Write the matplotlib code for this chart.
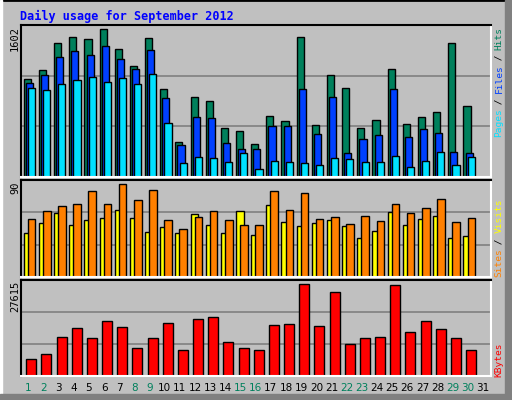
import matplotlib
matplotlib.use("Agg")
import matplotlib.pyplot as plt
from matplotlib.patches import Rectangle

days = list(range(1, 32))
hits = [1030,1125,1409,1472,1451,1557,1346,1167,1462,924,366,840,801,513,482,345,
        640,587,1472,545,1072,935,513,598,1135,555,629,682,1409,745,0]
files = [988,1072,1262,1325,1286,1378,1240,1135,1335,829,334,629,619,355,292,290,
         534,534,924,450,840,250,397,440,924,418,503,461,260,250,0]
pages = [935,913,977,1019,1051,998,1040,977,1082,566,144,208,197,155,250,81,
         165,155,144,123,197,187,155,155,218,102,165,260,123,208,0]
sites = [41,50,59,48,53,55,62,55,42,46,41,58,48,41,61,39,
         67,51,47,50,53,47,36,43,60,48,54,57,36,38,0]
visits = [54,61,66,68,80,68,86,71,81,53,45,56,61,53,48,48,
          80,62,78,54,56,49,57,52,68,59,64,72,51,55,0]
kbytes = [4845,6201,11143,13759,10852,15794,14050,7945,10852,15212,7364,16375,16956,9689,7945,7364,
          14631,14922,26549,14340,24224,9108,10852,11143,26258,12596,15794,13468,10852,7364,0]
weekend = {1,2,8,9,15,16,22,23,29,30}
max_top, max_mid, max_bot = 1602, 90, 27615

W, H = 512, 400
fig = plt.figure(figsize=(W/100, H/100), dpi=100)
fig.patch.set_facecolor("#C0C0C0")
# outer frame / shadows
fig.add_artist(Rectangle((0, 0), 1, 1, transform=fig.transFigure, fill=False, ec="black", lw=2))
fig.add_artist(Rectangle((0, 0), 2/W, 1, transform=fig.transFigure, color="white"))
fig.add_artist(Rectangle(((W-7)/W, 0), 7/W, 1, transform=fig.transFigure, color="#808080"))
fig.add_artist(Rectangle((0, 0), 1, 6/H, transform=fig.transFigure, color="#808080"))

def ax_at(top, bottom):
    l, r = 20.7, 490.7
    ax = fig.add_axes([l/W, 1-bottom/H, (r-l)/W, (bottom-top)/H])
    ax.set_facecolor("#C0C0C0")
    ax.set_xlim(0, 31)
    ax.set_xticks([]); ax.set_yticks([])
    for s in ("top", "left"):
        ax.spines[s].set_color("black"); ax.spines[s].set_linewidth(1.5)
    for s in ("bottom", "right"):
        ax.spines[s].set_color("white"); ax.spines[s].set_linewidth(1.5)
    return ax

x0 = [d - 1 for d in days]
ec = dict(edgecolor="black", linewidth=1, align="edge")

ax1 = ax_at(25, 177)
ax1.set_ylim(0, max_top)
for g in (1, 2):
    ax1.axhline(max_top*g/3, color="#808080", lw=1.2, zorder=0)
ax1.bar([x+0.2 for x in x0], hits, 0.47, color="#00805C", **ec)
ax1.bar([x+0.34 for x in x0], files, 0.47, color="#0040FF", **ec)
ax1.bar([x+0.48 for x in x0], pages, 0.47, color="#00E0FF", **ec)

ax2 = ax_at(180, 277)
ax2.set_ylim(0, max_mid)
for g in (1, 2):
    ax2.axhline(max_mid*g/3, color="#808080", lw=1.2, zorder=0)
ax2.bar([x+0.2 for x in x0], sites, 0.5, color="#FFFF00", **ec)
ax2.bar([x+0.47 for x in x0], visits, 0.5, color="#FF8000", **ec)

ax3 = ax_at(280, 376)
ax3.set_ylim(0, max_bot)
for g in (1, 2):
    ax3.axhline(max_bot*g/3, color="#808080", lw=1.2, zorder=0)
ax3.bar([x+0.37 for x in x0], kbytes, 0.66, color="#FF0000", **ec)

for d in days:
    ax3.text(d-0.5, -0.13, str(d), transform=ax3.get_xaxis_transform(), ha="center", va="center",
             fontsize=7.5, color="#00805C" if d in weekend else "black")

fig.text(20/W, 1-16/H, "Daily usage for September 2012", family="DejaVu Sans Mono",
         weight="bold", fontsize=8.5, color="#0000FF", va="center")

def ylab(txt, ytop):
    fig.text(15/W, 1-ytop/H, txt, rotation=90, ha="center", va="top", fontsize=7.5,
             family="DejaVu Sans Mono")
ylab("1602", 26); ylab("90", 181); ylab("27615", 281)

def rlab(parts, ybottom):
    y = ybottom
    for txt, col in parts:
        fig.text(499/W, 1-y/H, txt, rotation=90, ha="center", va="bottom", fontsize=6.8,
                 family="DejaVu Sans Mono", color=col)
        y -= len(txt)*5.45
rlab([("Pages", "#00E0FF"), (" / ", "black"), ("Files", "#0040FF"), (" / ", "black"), ("Hits", "#00805C")], 137)
rlab([("Sites", "#FF8000"), (" / ", "black"), ("Visits", "#FFFF00")], 277)
rlab([("KBytes", "#FF0000")], 377)

fig.savefig("out.png", dpi=100, facecolor=fig.get_facecolor())
